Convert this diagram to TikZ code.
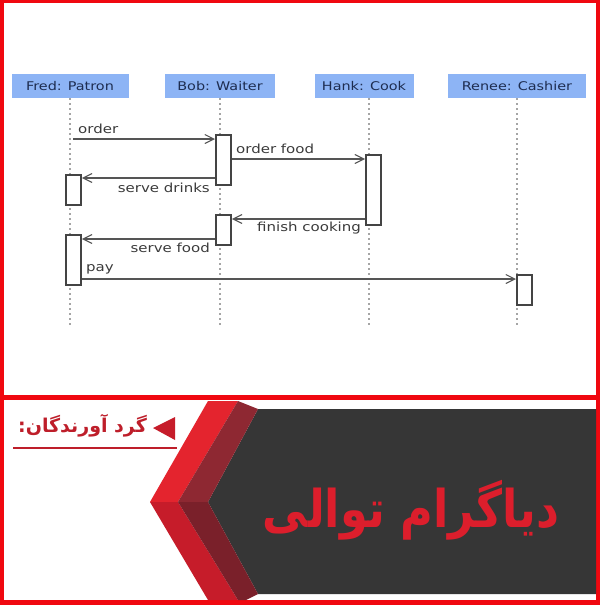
\documentclass[tikz,border=0pt]{standalone}
\usepackage{fontspec}
\usetikzlibrary{arrows.meta}
\TeXXeTstate=1
\newfontfamily\diag[FakeStretch=1.2]{DejaVu Sans}
\newfontfamily\fa[Script=Arabic]{DejaVu Sans}
\newfontfamily\fatitle[Script=Arabic,FakeStretch=0.86]{DejaVu Sans}
\definecolor{frame}{RGB}{240,8,16}
\definecolor{headblue}{RGB}{141,180,245}
\definecolor{headtext}{RGB}{30,45,80}
\definecolor{lifegray}{RGB}{165,165,165}
\definecolor{msggray}{RGB}{85,85,85}
\definecolor{redA}{RGB}{228,36,46}
\definecolor{redB}{RGB}{198,28,42}
\definecolor{maroonA}{RGB}{142,40,50}
\definecolor{maroonB}{RGB}{122,32,42}
\definecolor{darkbg}{RGB}{54,54,54}
\definecolor{titlered}{RGB}{220,30,44}
\definecolor{subred}{RGB}{190,30,42}
\tikzset{
  head/.style={fill=headblue, text=headtext, minimum height=24pt, inner sep=0pt, font=\diag\fontsize{12}{14}\selectfont},
  life/.style={draw=lifegray, line width=1.5pt, dash pattern=on 2pt off 3pt},
  actbox/.style={draw=msggray!80!black, fill=white, line width=1.8pt, minimum width=15pt, inner sep=0pt, anchor=north west},
  msg/.style={draw=msggray, line width=1.2pt, -{Straight Barb[length=9pt,width=9pt,line width=1.1pt]}},
  lbl/.style={text=msggray!70!black, inner sep=0pt, font=\diag\fontsize{12.5}{14}\selectfont},
}
\begin{document}
\begin{tikzpicture}[x=1pt,y=-1pt]
\useasboundingbox (0,0) rectangle (600,605);
% frame
\fill[frame] (0,0) rectangle (600,605);
\fill[white] (4,3) rectangle (596,395);
\fill[white] (4,400) rectangle (596,600);

% headers
\node[head, minimum width=117pt] (fred) at (70,86) {Fred: Patron};
\node[head, minimum width=110pt] (bob) at (220,86) {Bob: Waiter};
\node[head, minimum width=99pt] (hank) at (364,86) {Hank: Cook};
\node[head, minimum width=138pt] (renee) at (517,86) {Renee: Cashier};

% lifelines
\coordinate (fredEnd) at (70,328);
\coordinate (bobEnd) at (220,328);
\coordinate (hankEnd) at (369,328);
\coordinate (reneeEnd) at (517,328);
\draw[life] (fred.south) -- (fredEnd);
\draw[life] (bob.south) -- (bobEnd);
\draw[life] (hank.south -| hankEnd) -- (hankEnd);
\draw[life] (renee.south) -- (reneeEnd);

% activations
\node[actbox, minimum height=30pt] (f1) at (65,174) {};
\node[actbox, minimum height=50pt] (f2) at (65,234) {};
\node[actbox, minimum height=50pt] (b1) at (215,134) {};
\node[actbox, minimum height=30pt] (b2) at (215,214) {};
\node[actbox, minimum height=70pt] (h1) at (365,154) {};
\node[actbox, minimum height=30pt] (r1) at (516,274) {};

% messages
\coordinate (o1) at (73,139);
\draw[msg] (o1) -- (b1.west |- o1);
\draw[msg] ([yshift=-25pt]b1.north east) -- ([yshift=-5pt]h1.north west);
\draw[msg] ([yshift=-44pt]b1.north west) -- ([yshift=-4pt]f1.north east);
\draw[msg] ([yshift=-65pt]h1.north west) -- ([yshift=-5pt]b2.north east);
\draw[msg] ([yshift=-25pt]b2.north west) -- ([yshift=-5pt]f2.north east);
\draw[msg] ([yshift=-45pt]f2.north east) -- ([yshift=-5pt]r1.north west);

% labels
\node[lbl, anchor=west] (l1) at (78,129) {order};
\node[lbl, anchor=west] (l2) at (236,149) {order food};
\node[lbl, anchor=east] (l3) at (210,188) {serve drinks};
\node[lbl, anchor=west] (l4) at (257,228) {finish cooking};
\node[lbl, anchor=east] (l5) at (210,248) {serve food};
\node[lbl, anchor=west] (l6) at (86,269) {pay};

% banner
\fill[darkbg] (258,409) -- (596,409) -- (596,594) -- (258,594) -- (208,502) -- cycle;
\fill[redA] (208,401) -- (238,401) -- (178,502) -- (150,502) -- cycle;
\fill[redB] (150,502) -- (178,502) -- (238,600) -- (208,600) -- cycle;
\fill[maroonA] (238,401) -- (258,409) -- (208,502) -- (178,502) -- cycle;
\fill[maroonB] (178,502) -- (208,502) -- (258,594) -- (246,600) -- (238,600) -- cycle;

\node[text=titlered, font=\fatitle\bfseries\fontsize{52}{58}\selectfont, inner sep=0pt] (title) at (411,510) {\beginR دیاگرام توالی\endR};

% subtitle
\fill[redB] (153,428) -- (175,417) -- (175,440) -- cycle;
\node[text=subred, font=\fa\bfseries\fontsize{19}{22}\selectfont, inner sep=0pt, anchor=east] (sub) at (147,426) {\beginR گرد آورندگان:\endR};
\coordinate (ulA) at (13,448);
\coordinate (ulB) at (177,448);
\draw[subred, line width=1.5pt] (ulA) -- (ulB);
\end{tikzpicture}
\end{document}
